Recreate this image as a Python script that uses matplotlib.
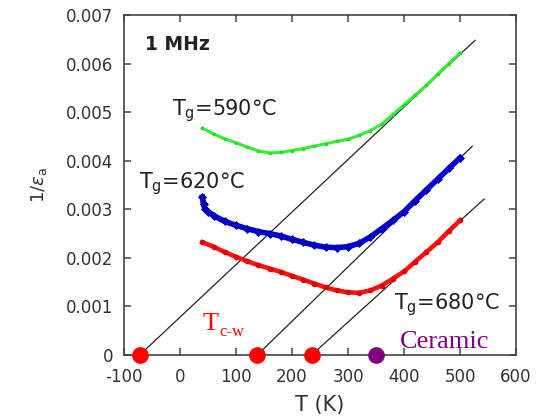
import matplotlib
matplotlib.use("Agg")
import matplotlib.pyplot as plt
import matplotlib.transforms as mtransforms
import numpy as np

# ---- data ----
T_green = [40, 60, 80, 100, 120, 140, 160, 180, 200, 220, 240, 260, 280, 300, 320, 340,
           360, 380, 400, 420, 440, 460, 480, 500]
y_green = [0.00467, 0.00455, 0.00445, 0.00437, 0.00428, 0.00420, 0.00416, 0.00417,
           0.00421, 0.00425, 0.00430, 0.00435, 0.00440, 0.00444, 0.00452, 0.00462,
           0.00475, 0.00495, 0.00515, 0.00535, 0.00555, 0.00578, 0.00600, 0.00622]

T_blue = [40, 42, 45, 50, 60, 80, 100, 120, 140, 160, 180, 200, 220, 240, 260, 280,
          300, 320, 340, 360, 380, 400, 420, 440, 460, 480, 500]
y_blue = [0.00325, 0.00310, 0.00300, 0.00295, 0.00287, 0.00275, 0.00267, 0.00260,
          0.00254, 0.00250, 0.00245, 0.00238, 0.00232, 0.00226, 0.00222, 0.00221,
          0.00223, 0.00230, 0.00243, 0.00260, 0.00277, 0.00295, 0.00318, 0.00340,
          0.00362, 0.00384, 0.00406]

T_red = [40, 60, 80, 100, 120, 140, 160, 180, 200, 220, 240, 260, 280, 300, 320, 340,
         360, 380, 400, 420, 440, 460, 480, 500]
y_red = [0.00232, 0.00223, 0.00212, 0.00202, 0.00193, 0.00185, 0.00178, 0.00171,
         0.00163, 0.00155, 0.00147, 0.00139, 0.00133, 0.00129, 0.00128, 0.00133,
         0.00143, 0.00157, 0.00172, 0.00192, 0.00212, 0.00232, 0.00255, 0.00277]

# Curie-Weiss fit lines: start T (intercept), end T, end value
fit_T0 = [-72, 138, 235]
fit_T1 = [527, 522, 543]
fit_y1 = [0.00648, 0.00430, 0.00321]

Tcw_points = [-72, 138, 235]
ceramic_point = [350]

xticks = [-100, 0, 100, 200, 300, 400, 500, 600]
yticks = [0, 0.001, 0.002, 0.003, 0.004, 0.005, 0.006, 0.007]
ytick_labels = ['0', '0.001', '0.002', '0.003', '0.004', '0.005', '0.006', '0.007']

# ---- figure ----
plt.rcParams['font.family'] = ['DejaVu Sans']
plt.rcParams['axes.unicode_minus'] = False
fig = plt.figure(figsize=(5.36, 4.18), dpi=100)
ax = fig.add_axes([124/536, 63/418, 392/536, 340/418])

txtc = '#333333'

for t0, t1, y1 in zip(fit_T0, fit_T1, fit_y1):
    ax.plot([t0, t1], [0, y1], color='#222222', lw=0.9, zorder=2)

ax.plot(T_green, y_green, color='#33ee33', lw=2.2, marker='s', ms=1.8,
        mec='#22dd22', zorder=3)
ax.plot(T_blue, y_blue, color='#0000dd', lw=4, marker='D', ms=4.5,
        mfc='#0000cc', mec='#000099', mew=0.5, zorder=3)
ax.plot(T_red, y_red, color='#ff1111', lw=3.3, marker='o', ms=3,
        mfc='#ee0000', mec='#dd0000', zorder=3)

ax.plot(Tcw_points, [0]*len(Tcw_points), 'o', color='#ff0000', ms=11,
        clip_on=False, zorder=5)
ax.plot(ceramic_point, [0], 'o', color='#800080', ms=11, clip_on=False, zorder=5)

ax.set_xlim(-100, 600)
ax.set_ylim(0, 0.007)
ax.set_xticks(xticks)
ax.set_yticks(yticks)
ax.set_yticklabels(ytick_labels)
ax.tick_params(direction='in', top=True, right=True, length=5, width=1.1,
               color='#444444', labelsize=12, labelcolor=txtc)
ax.tick_params(axis='y', pad=8)
ax.tick_params(axis='x', pad=9)
for s in ax.spines.values():
    s.set_color('#444444')
    s.set_linewidth(1.2)

ax.set_xlabel('T (K)', fontsize=15, color=txtc, labelpad=7)
ax.set_ylabel(r'1/$\varepsilon_\mathregular{a}$', fontsize=13, color=txtc, labelpad=12)

ax.text(-62, 0.00628, '1 MHz', fontsize=13.5, fontweight='bold', color='#222222',
        va='baseline')
ax.text(-14, 0.00494, r'T$_\mathregular{g}$=590°C', fontsize=15, color='#222222',
        va='baseline')
ax.text(-74, 0.00344, r'T$_\mathregular{g}$=620°C', fontsize=15, color='#222222',
        va='baseline')
ax.text(382, 0.00093, r'T$_\mathregular{g}$=680°C', fontsize=15, color='#222222',
        va='baseline')

ax.text(41, 0.00051, 'T', fontsize=19, color='#ff0000', family='Liberation Serif',
        va='baseline')
off = mtransforms.offset_copy(ax.transData, fig=fig, x=12, y=-4, units='points')
ax.text(41, 0.00051, 'c-w', fontsize=12, color='#ff0000', family='Liberation Serif',
        va='baseline', transform=off)
ax.text(393, 0.00014, 'Ceramic', fontsize=19, color='#800080',
        family='Liberation Serif', va='baseline')

fig.savefig('out.png', dpi=100)
